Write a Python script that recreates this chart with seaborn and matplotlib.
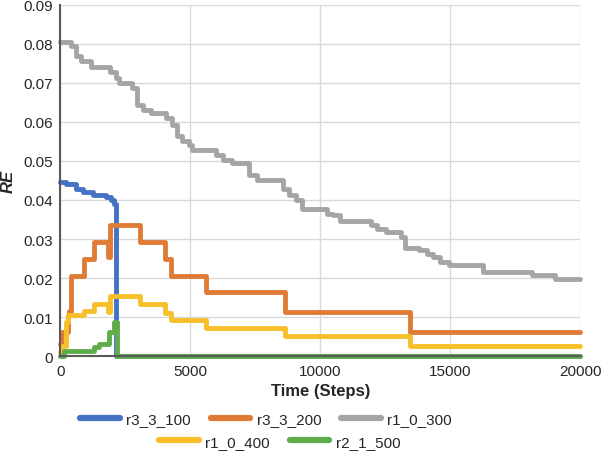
import pandas as pd
import seaborn as sns
import matplotlib.pyplot as plt
import matplotlib.ticker as ticker
from matplotlib.lines import Line2D

# Series names / colours
names = ["r3_3_100", "r3_3_200", "r1_0_300", "r1_0_400", "r2_1_500"]
colors = ["#4472C4", "#E07B35", "#A5A5A5", "#F7C02A", "#5FAD4A"]

# Values (each value holds until the next time step)
blue_t = [0, 230, 600, 860, 1240, 1760, 1950, 2080, 2150, 20000]
blue_y = [0.0446, 0.0442, 0.0429, 0.0421, 0.0414, 0.0408, 0.0399, 0.0391, 0, 0]

orange_t = [0, 50, 280, 350, 410, 925, 1310, 1820, 1920, 3050, 4010, 4270,
            5620, 8650, 13450, 20000]
orange_y = [0.0030, 0.0061, 0.0104, 0.0115, 0.0206, 0.0249, 0.0292, 0.0254,
            0.0335, 0.0292, 0.0250, 0.0206, 0.0164, 0.0112, 0.0062, 0.0062]

gray_t = [0, 400, 600, 800, 1200, 1900, 2150, 2250, 2750, 2950, 3200, 3500,
          4050, 4300, 4500, 4700, 4950, 5050, 6000, 6250, 6600, 7250, 7550,
          8550, 8800, 9050, 9300, 10250, 10500, 10750, 11950, 12200, 12550,
          13100, 13250, 13800, 14100, 14350, 14600, 14950, 16250, 18150,
          19050, 20000]
gray_y = [0.0806, 0.0794, 0.0768, 0.0755, 0.0742, 0.0729, 0.0712, 0.0699,
          0.0686, 0.0643, 0.0631, 0.0622, 0.0609, 0.0592, 0.0563, 0.0550,
          0.0541, 0.0528, 0.0515, 0.0502, 0.0494, 0.0464, 0.0451, 0.0429,
          0.0412, 0.0399, 0.0378, 0.0365, 0.0361, 0.0345, 0.0335, 0.0326,
          0.0318, 0.0305, 0.0278, 0.0271, 0.0262, 0.0254, 0.0241, 0.0234,
          0.0215, 0.0208, 0.0198, 0.0198]

yellow_t = [0, 50, 220, 280, 925, 1310, 1820, 1920, 3050, 4010, 4270, 5620,
            8650, 13450, 20000]
yellow_y = [0.0010, 0.0027, 0.0087, 0.0104, 0.0115, 0.0134, 0.0112, 0.0155,
            0.0134, 0.0110, 0.0093, 0.0073, 0.0051, 0.0027, 0.0027]

green_t = [0, 150, 1310, 1500, 1890, 2050, 2180, 20000]
green_y = [0, 0.0014, 0.0022, 0.0031, 0.0061, 0.0087, 0, 0]

times = [blue_t, orange_t, gray_t, yellow_t, green_t]
values = [blue_y, orange_y, gray_y, yellow_y, green_y]

# Style
sns.set_style("white")
plt.rcParams["font.family"] = ["Liberation Sans", "DejaVu Sans"]
plt.rcParams["font.size"] = 11

fig = plt.figure(figsize=(6.03, 4.56), dpi=100)
ax = fig.add_axes([0.100, 0.217, 0.862, 0.770])

for name, t, y, c in zip(names, times, values, colors):
    df = pd.DataFrame({"t": t, "RE": y})
    sns.lineplot(data=df, x="t", y="RE", color=c, lw=3.5, drawstyle="steps-post",
                 estimator=None, sort=False, ax=ax, clip_on=False,
                 solid_joinstyle="round", solid_capstyle="round", label=name)

ax.legend_.remove()

ax.set_xlim(0, 20000)
ax.set_ylim(0, 0.09)
ax.xaxis.set_major_locator(ticker.MultipleLocator(5000))
ax.yaxis.set_major_locator(ticker.MultipleLocator(0.01))
ax.yaxis.set_major_formatter(ticker.FuncFormatter(lambda v, p: "0" if abs(v) < 1e-9 else f"{v:.2f}"))

ax.grid(True, color="#d9d9d9", lw=1)
ax.set_axisbelow(True)
for s in ["top", "right"]:
    ax.spines[s].set_visible(False)
for s in ["left", "bottom"]:
    ax.spines[s].set_color("#595959")
    ax.spines[s].set_linewidth(1.5)

ax.tick_params(axis="both", length=0, labelsize=11, labelcolor="#262626")
ax.tick_params(axis="x", pad=6)
ax.tick_params(axis="y", pad=5)

ax.set_xlabel("Time (Steps)", fontsize=12, fontweight="bold", labelpad=3)
ax.set_ylabel("RE", fontsize=12, fontweight="bold", fontstyle="italic", labelpad=6)

# Legend: 3 items on top row, 2 centred below
handles = [Line2D([0], [0], color=c, lw=4.5, solid_capstyle="round") for c in colors]
leg_kw = dict(loc="center", frameon=False, handlelength=2.6, handletextpad=0.4,
              columnspacing=1.3, fontsize=11)
fig.legend(handles[:3], names[:3], ncol=3, bbox_to_anchor=(0.441, 0.079), **leg_kw)
fig.legend(handles[3:], names[3:], ncol=2, bbox_to_anchor=(0.464, 0.029), **leg_kw)

fig.savefig("out.png", dpi=100)
